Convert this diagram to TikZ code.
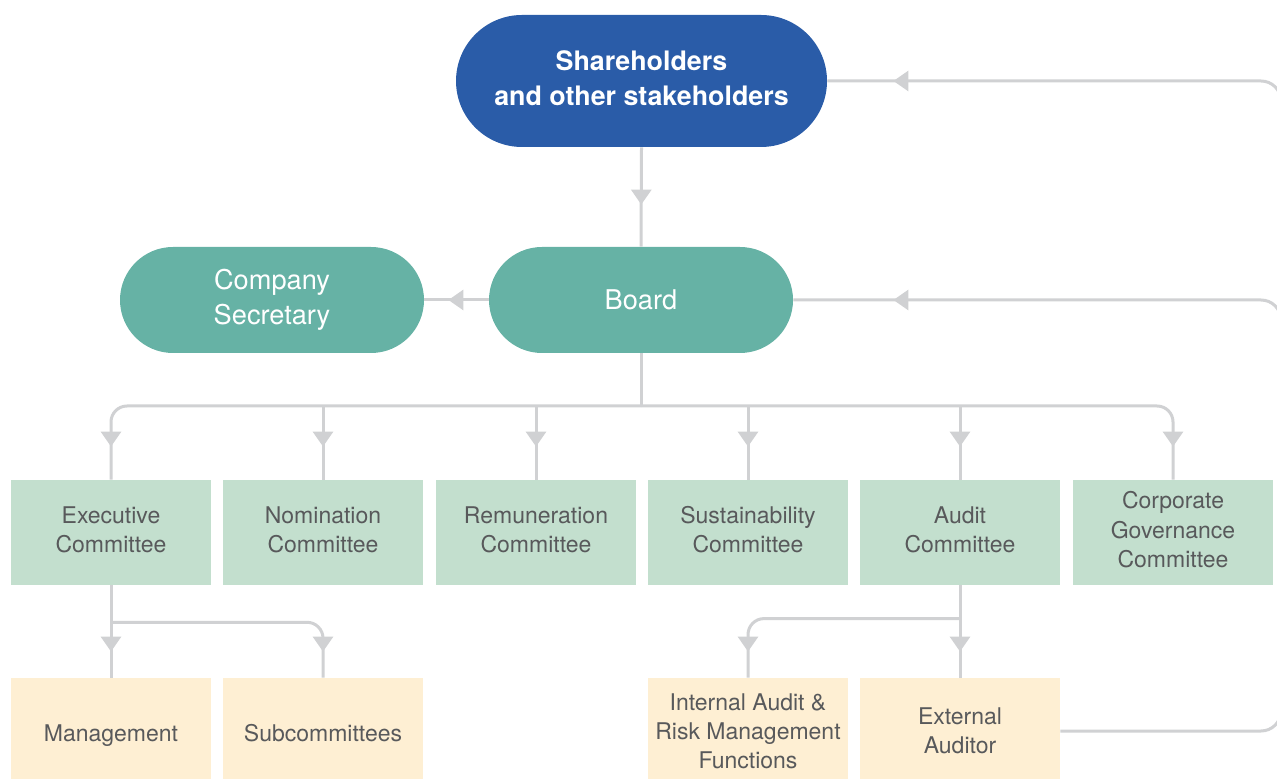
\documentclass[tikz,border=0pt]{standalone}
\usepackage{fontspec}
\setmainfont{TeX Gyre Heros}
\usetikzlibrary{arrows.meta,decorations.markings,calc}

\definecolor{shblue}{HTML}{2A5CA8}
\definecolor{boardteal}{HTML}{66B2A5}
\definecolor{commgreen}{HTML}{C3DFCE}
\definecolor{unityellow}{HTML}{FEEFD3}
\definecolor{linegray}{HTML}{D0D1D3}
\definecolor{textgray}{HTML}{58595B}

\tikzset{
    pill/.style={rectangle, rounded corners=26.5pt, fill=boardteal, text=white,
        minimum width=152pt, minimum height=53pt, inner sep=0pt, align=center,
        font=\fontsize{13.6}{17.5}\selectfont},
    orgbox/.style={rectangle, text=textgray, minimum width=100pt, inner sep=0pt,
        align=center, font=\fontsize{11.5}{14.6}\selectfont},
    committee/.style={orgbox, fill=commgreen, minimum height=52.5pt, text depth=3pt},
    unit/.style={orgbox, fill=unityellow, minimum height=53pt},
    oneline/.style={text height=10.2pt, text depth=0pt},
    link/.style={draw=linegray, line width=1.5pt},
    tipin/.style={postaction={decorate}, decoration={markings,
        mark=at position #1 with {\arrow[linegray]{Triangle[width=10pt,length=7.5pt]}}}}
}

\begin{document}
\begin{tikzpicture}[x=0.5pt, y=-0.5pt]
    \useasboundingbox (0,0) rectangle (1277,779);
    \clip (0,0) rectangle (1277,779);

    % Top level
    \node[pill, fill=shblue, rounded corners=33pt, minimum width=185.5pt, minimum height=66pt,
        text depth=3.2pt, font=\fontsize{13.4}{17.5}\selectfont\bfseries] (sh) at (641.5,81)
        {Shareholders\\and other stakeholders};
    \node[pill] (board) at (641,300) {Board};
    \node[pill] (sec) at (272,300) {Company\\Secretary};

    % Committees
    \node[committee] (exe) at (111,532.5) {Executive\\Committee};
    \node[committee] (nom) at (323,532.5) {Nomination\\Committee};
    \node[committee] (rem) at (536,532.5) {Remuneration\\Committee};
    \node[committee] (sus) at (748,532.5) {Sustainability\\Committee};
    \node[committee] (aud) at (960,532.5) {Audit\\Committee};
    \node[committee] (cgc) at (1173,532.5) {Corporate\\Governance\\Committee};

    % Bottom row
    \node[unit, oneline] (mgmt) at (111,731) {Management};
    \node[unit, oneline] (sub) at (323,731) {Subcommittees};
    \node[unit] (int) at (748,731) {Internal Audit \&\\Risk Management\\Functions};
    \node[unit] (ext) at (960,731) {External\\Auditor};

    % Right rail (runs past the edge)
    \coordinate (railbot) at (1281,731);
    \coordinate (railmid) at (1281,300);
    \coordinate (railtop) at (1281,81);
    \coordinate (bus) at (641,406);

    % Connectors
    \draw[link, tipin=-21pt] (sh.south) -- (board.north);
    \draw[link, tipin=-12pt] (board.west) -- (sec.east);
    \draw[link] (board.south) -- (bus);
    \draw[link, rounded corners=8pt, tipin=-16.5pt] (bus) -| (exe.north);
    \draw[link, rounded corners=8pt, tipin=-16.5pt] (bus) -| (cgc.north);
    \draw[link, tipin=-16.5pt] (nom.north |- bus) -- (nom.north);
    \draw[link, tipin=-16.5pt] (rem.north |- bus) -- (rem.north);
    \draw[link, tipin=-16.5pt] (sus.north |- bus) -- (sus.north);
    \draw[link, tipin=-16.5pt] (aud.north |- bus) -- (aud.north);

    \draw[link, tipin=-13pt] (exe.south) -- (mgmt.north);
    \draw[link, rounded corners=8pt, tipin=-13pt] ($(exe.south)!0.4!(mgmt.north)$) -| (sub.north);
    \draw[link, tipin=-13pt] (aud.south) -- (ext.north);
    \draw[link, rounded corners=8pt, tipin=-13pt] ($(aud.south)!0.36!(ext.north)$) -| (int.north);

    \draw[link, rounded corners=10pt, tipin=-50pt] (ext.east) -- (railbot) -- (railmid) -- (board.east);
    \draw[link, rounded corners=10pt, tipin=-33pt] (railmid) -- (railtop) -- (sh.east);
\end{tikzpicture}
\end{document}
